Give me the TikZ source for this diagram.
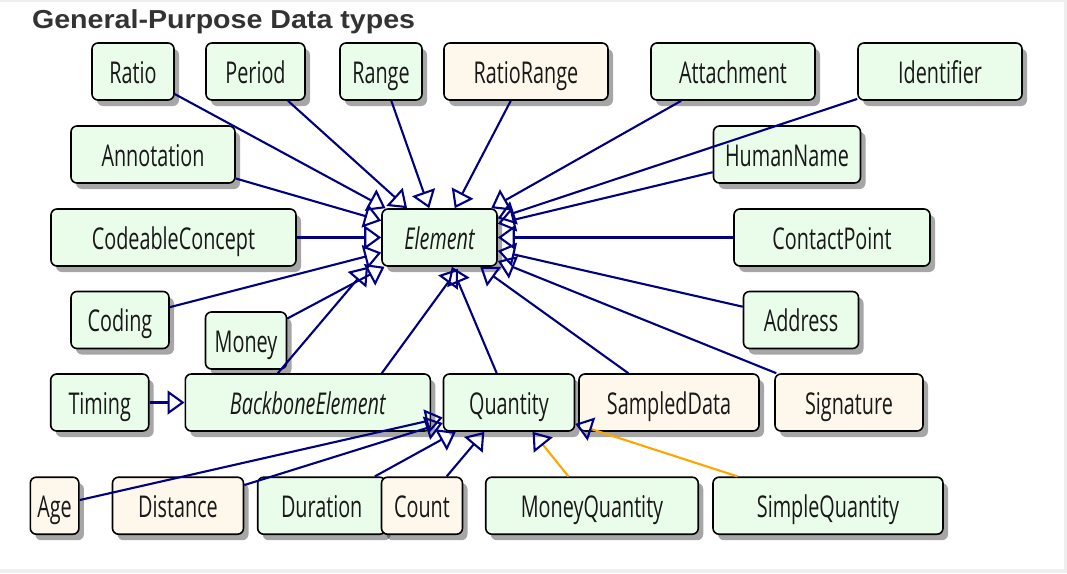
\documentclass[tikz,border=0pt]{standalone}
\usepackage{fontspec}
\setmainfont{Open Sans}[FakeStretch=0.66]
\newfontfamily\titlefont{Liberation Sans}[FakeStretch=1.1]
\usetikzlibrary{arrows.meta}
\usetikzlibrary{shadows}
\usetikzlibrary{calc}
\definecolor{typegreen}{HTML}{EAFDEA}
\definecolor{profcream}{HTML}{FEF8EC}
\definecolor{umlblue}{HTML}{000080}
\definecolor{umlorange}{HTML}{FFA500}
\definecolor{titlegray}{HTML}{333333}
\definecolor{framegray}{HTML}{EEEEEE}
\tikzset{every picture/.style={line width=2.1pt},
typebox/.style={draw=black,line width=1.6pt,fill=typegreen,rounded corners=6pt,minimum height=57pt,inner sep=0pt,text height=23.5pt,text depth=0pt,text=black!90,font=\fontsize{30}{32}\selectfont,drop shadow={shadow xshift=5pt,shadow yshift=-6pt,opacity=0.35,fill=black}},
profbox/.style={typebox,fill=profcream},
isa/.style={draw=umlblue,-{Triangle[open,length=17pt,width=24pt]}},
isaprof/.style={draw=umlorange,-{Triangle[open,length=17pt,width=24pt,color=umlblue]}}}

\begin{document}
\begin{tikzpicture}[x=1pt,y=-1pt]
\fill[framegray] (0,0) rectangle (1067,573);
\fill[white] (0,1.5) rectangle (1064,569);
\useasboundingbox (0,0) rectangle (1067,573);

\node (title) [anchor=base west,inner sep=0pt,text=titlegray,font=\titlefont\bfseries\fontsize{26}{28}\selectfont] at (31,28) {General-Purpose Data types};

% top row
\node (ratio) [typebox,minimum width=82pt] at (133,71.5) {Ratio};
\node (period) [typebox,minimum width=99pt] at (255.5,71.5) {Period};
\node (range) [typebox,minimum width=82pt] at (381,71.5) {Range};
\node (ratiorange) [profbox,minimum width=164pt] at (526,71.5) {RatioRange};
\node (attachment) [typebox,minimum width=164pt] at (733,71.5) {Attachment};
\node (identifier) [typebox,minimum width=164pt] at (940,71.5) {Identifier};

\node (annotation) [typebox,minimum width=164pt] at (153,154.5) {Annotation};
\node (humanname) [typebox,minimum width=147pt] at (787,154.5) {HumanName};

\node (codeable) [typebox,minimum width=245pt] at (173.5,237.5) {CodeableConcept};
\node (element) [typebox,minimum width=115pt] at (439.5,237.5) {\itshape Element};
\node (contactpoint) [typebox,minimum width=196pt] at (832,237.5) {ContactPoint};

\node (coding) [typebox,minimum width=98pt] at (120,320) {Coding};
\node (money) [typebox,minimum width=81pt] at (246,340.5) {Money};
\node (address) [typebox,minimum width=115pt] at (801,320) {Address};

\node (timing) [typebox,minimum width=98pt] at (99.7,402.5) {Timing};
\node (backbone) [typebox,minimum width=245pt] at (307.8,402.5) {\itshape BackboneElement};
\node (quantity) [typebox,minimum width=131pt] at (509,402.5) {Quantity};
\node (sampleddata) [profbox,minimum width=180pt] at (669,402.5) {SampledData};
\node (signature) [profbox,minimum width=148pt] at (849,402.5) {Signature};

% Quantity profiles
\node (age) [profbox,minimum width=48.6pt] at (54.6,505.7) {Age};
\node (distance) [profbox,minimum width=131pt] at (178,505.7) {Distance};
\node (duration) [typebox,minimum width=128pt] at (321.7,505.7) {Duration};
\node (count) [profbox,minimum width=81pt] at (422,505.7) {Count};
\node (moneyquantity) [typebox,minimum width=212.5pt] at (592,505.7) {MoneyQuantity};
\node (simplequantity) [typebox,minimum width=230pt] at (828,505.7) {SimpleQuantity};

\foreach \t in {ratio,period,range,ratiorange,attachment,identifier,annotation,humanname,codeable,contactpoint,coding,money,address,quantity,sampleddata,signature}
\draw[isa] (\t) -- (element);

\draw[isa] ([xshift=-30pt]backbone.north) -- ([xshift=-71.5pt]element.south);
\draw[isa] ([xshift=74pt]backbone.north) -- ([xshift=18.5pt,yshift=-2pt]element.south);
\draw[isa] (timing) -- (backbone);

\foreach \t in {age,distance,duration,count}
\draw[isa] (\t) -- (quantity);
\foreach \t in {moneyquantity,simplequantity}
\draw[isaprof] (\t) -- (quantity);

\end{tikzpicture}
\end{document}
